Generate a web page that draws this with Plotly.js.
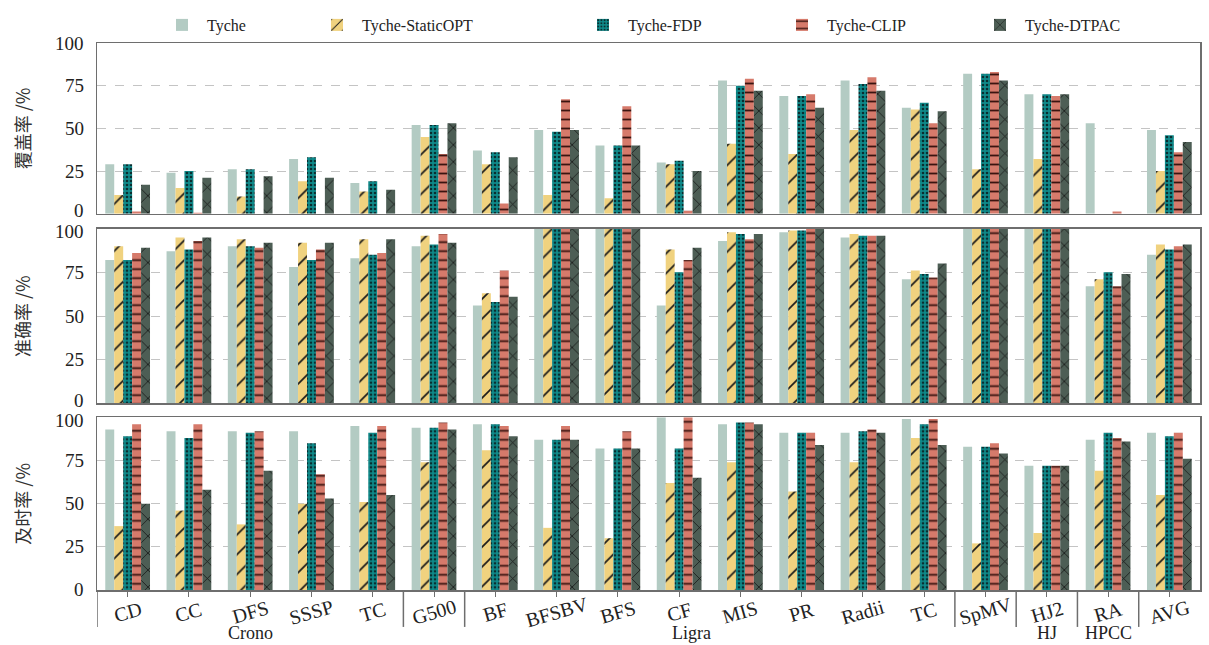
<!DOCTYPE html>
<html>
<head>
<meta charset="utf-8">
<script src="https://cdn.plot.ly/plotly-3.0.1.min.js"></script>
<style>html,body{margin:0;padding:0;background:#fff;}#chart{width:1209px;height:645px;}</style>
</head>
<body>
<div id="chart"></div>
<script>
// ---- data ----
const categories = ["CD","CC","DFS","SSSP","TC","G500","BF","BFSBV","BFS","CF","MIS","PR","Radii","TC","SpMV","HJ2","RA","AVG"];
const seriesNames = ["Tyche","Tyche-StaticOPT","Tyche-FDP","Tyche-CLIP","Tyche-DTPAC"];
const panelTitles = ["覆盖率 /%","准确率 /%","及时率 /%"];
const yTicks = [0, 25, 50, 75, 100];
const groupLabels = ["Crono","Ligra","HJ","HPCC"];
const groupCenters = [2, 9.2, 15, 16];
const separators = [-0.5, 4.5, 5.5, 13.5, 14.5, 15.5, 16.5];

// 覆盖率 (coverage)
const cov_Tyche     = [29,24,26,32,18,52,37,49,40,30,78,69,78,62,82,70,53,49];
const cov_StaticOPT = [11,15,10,19,13,45,29,11,9,29,41,35,49,61,26,32,0,25];
const cov_FDP       = [29,25,26,33,19,52,36,48,40,31,75,69,76,65,82,70,0,46];
const cov_CLIP      = [1.3,0.5,0,0,0,35,6,67,63,1.7,79,70,80,53,83,69,1.3,36];
const cov_DTPAC     = [17,21,22,21,14,53,33,49,40,25,72,62,72,60,78,70,0,42];

// 准确率 (accuracy)
const acc_Tyche     = [82,87,90,78,83,90,56,100,100,56,93,98,95,71,100,100,67,85];
const acc_StaticOPT = [90,95,94,92,94,96,63,100,100,88,98,99,97,76,100,100,71,91];
const acc_FDP       = [82,88,90,82,85,91,58,100,100,75,97,99,96,74,100,100,75,88];
const acc_CLIP      = [86,93,89,88,86,97,76,100,100,82,94,100,96,72,100,100,67,90];
const acc_DTPAC     = [89,95,92,92,94,92,61,100,100,89,97,100,96,80,100,100,74,91];

// 及时率 (timeliness)
const tim_Tyche     = [93,92,92,92,95,94,96,87,82,100,96,91,91,99,83,72,87,91];
const tim_StaticOPT = [37,46,38,50,51,74,81,36,30,62,74,57,74,88,27,33,69,55];
const tim_FDP       = [89,88,91,85,91,94,96,87,82,82,97,91,92,96,83,72,91,89];
const tim_CLIP      = [96,96,92,67,95,97,95,95,92,100,97,91,93,99,85,72,88,91];
const tim_DTPAC     = [50,58,69,53,55,93,89,87,82,65,96,84,91,84,79,72,86,76];

const panels = [
  [cov_Tyche, cov_StaticOPT, cov_FDP, cov_CLIP, cov_DTPAC],
  [acc_Tyche, acc_StaticOPT, acc_FDP, acc_CLIP, acc_DTPAC],
  [tim_Tyche, tim_StaticOPT, tim_FDP, tim_CLIP, tim_DTPAC]
];

// ---- styles ----
const styles = [
  {color:"#b3cbc3", pattern:{shape:""}},
  {color:"#f0d27f", pattern:{shape:"/", bgcolor:"#f0d27f", fgcolor:"#1a1a1a", size:14, solidity:0.12, fillmode:"replace"}},
  {color:"#0f8a8a", pattern:{shape:".", bgcolor:"#0f8a8a", fgcolor:"#0a2e30", size:4, solidity:0.35, fillmode:"replace"}},
  {color:"#d67a6b", pattern:{shape:"-", bgcolor:"#d67a6b", fgcolor:"#3a1410", size:9, solidity:0.2, fillmode:"replace"}},
  {color:"#4d5e55", pattern:{shape:"x", bgcolor:"#4d5e55", fgcolor:"#111111", size:12, solidity:0.12, fillmode:"replace"}}
];
const legendNames = ["legend","legend2","legend3","legend4","legend5"];
const xIdx = categories.map((c,i)=>i);
const yRefs = ["y","y2","y3"];

const traces = [];
panels.forEach((series, p) => {
  series.forEach((vals, s) => {
    traces.push({
      type:"bar",
      name: seriesNames[s],
      x: xIdx,
      y: vals,
      xaxis: p===0 ? "x" : "x"+(p+1),
      yaxis: yRefs[p],
      marker: {color: styles[s].color, pattern: styles[s].pattern, line:{width:0}},
      showlegend: p===0,
      legend: legendNames[s],
      hoverinfo:"x+y+name"
    });
  });
});

const T = 42, B = 590, H = 645;
const ph = B - T;
function py(px){ return (B - px)/ph; }
const domains = [[py(213), 1], [py(403), py(228)], [0, py(417)]];

const serif = "Liberation Serif, Times New Roman, serif";
const frame = "#6e6e6e";

function yax(d){
  return {
    domain: d, range:[0,100], tickvals:yTicks,
    showgrid:true, gridcolor:"#c4c4c4", griddash:"dash", gridwidth:1,
    zeroline:false, showline:true, linecolor:frame, linewidth:1.5, mirror:true,
    ticks:"", showticklabels:false, fixedrange:true
  };
}
function xax(anchor, ticks){
  return {
    anchor: anchor, matches: anchor==="y" ? undefined : "x",
    range:[-0.5,17.5], tickvals:xIdx, ticktext:categories,
    showticklabels:false, ticks: ticks ? "outside" : "", ticklen:5, tickcolor:frame,
    showline:true, linecolor:frame, linewidth:1.5, mirror:true, showgrid:false, zeroline:false
  };
}

const yTickAnn = [];
yRefs.forEach((yr, p) => {
  yTicks.forEach(v => {
    let shift = 0;
    if (v === 0 && p < 2) shift = 3;
    if (v === 100 && p > 0) shift = -3;
    yTickAnn.push({
      text:String(v), xref:"paper", yref:yr, x:(86-97)/1103, y:v, yshift:shift,
      showarrow:false, xanchor:"right", yanchor:"middle",
      font:{family:serif, size:19, color:"#222"}
    });
  });
});

const legendXs = [157, 312, 578, 777, 975];
const layout = {
  width:1209, height:645,
  margin:{l:97, r:9, t:T, b:H-B},
  paper_bgcolor:"#fff", plot_bgcolor:"#fff",
  barmode:"group", bargap:0.27, bargroupgap:0,
  font:{family:serif, color:"#222"},
  xaxis: xax("y", false),
  xaxis2: xax("y2", false),
  xaxis3: xax("y3", true),
  yaxis: yax(domains[0]),
  yaxis2: yax(domains[1]),
  yaxis3: yax(domains[2]),
  shapes: separators.map(s => ({
    type:"line", xref:"x3", yref:"paper", x0:s, x1:s, y0:0, y1:-(627-590)/ph,
    line:{color:frame, width:1.5}
  })),
  annotations: [
    ...yTickAnn,
    ...panelTitles.map((t,i)=>({
      text:t, xref:"paper", yref:"paper", x:(22-97)/1103, y:(domains[i][0]+domains[i][1])/2,
      textangle:-90, showarrow:false, xanchor:"center", yanchor:"middle",
      font:{family:"Noto Sans CJK SC, sans-serif", size:18, color:"#333"}
    })),
    ...categories.map((c,i)=>({
      text:c, xref:"x3", yref:"paper", x:i, y:-(612-590)/ph,
      textangle:-16, showarrow:false, xanchor:"center", yanchor:"middle",
      font:{family:serif, size:20, color:"#222"}
    })),
    ...groupLabels.map((g,i)=>({
      text:g, xref:"x3", yref:"paper", x:groupCenters[i], y:(590-633)/ph,
      showarrow:false, xanchor:"center", yanchor:"middle",
      font:{family:serif, size:18, color:"#222"}
    }))
  ]
};
legendNames.forEach((ln, i) => {
  layout[ln] = {
    orientation:"h", x:(legendXs[i]-97)/1103, xanchor:"left", y:1.0, yanchor:"bottom",
    font:{family:serif, size:16, color:"#222"}, bgcolor:"rgba(0,0,0,0)", itemwidth:40
  };
});

Plotly.newPlot("chart", traces, layout, {displayModeBar:false, staticPlot:true});
</script>
</body>
</html>
